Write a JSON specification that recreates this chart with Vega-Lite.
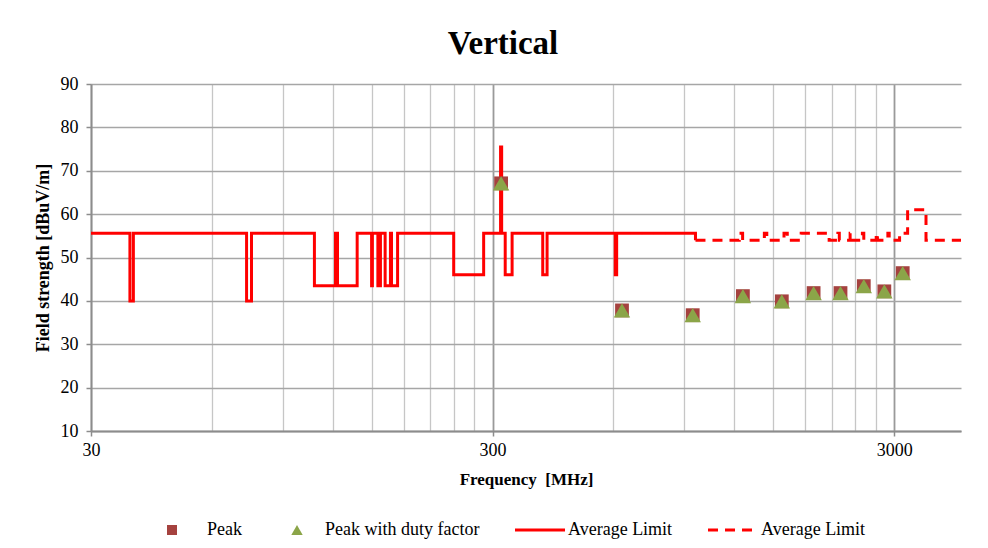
{
  "$schema": "https://vega.github.io/schema/vega-lite/v6.json",
  "width": 870,
  "height": 347,
  "autosize": {"type": "none"},
  "padding": {"left": 91, "top": 84, "right": 27, "bottom": 117},
  "background": "white",
  "title": {"text": "Vertical", "font": "Liberation Serif", "fontSize": 33, "fontWeight": "bold", "anchor": "middle", "dx": -23, "offset": 14, "color": "black"},
  "config": {"view": {"stroke": null}, "font": "Liberation Serif"},
  "data": {"values": [
    {"s": "Average Limit", "f": 30, "v": 55.6},
    {"s": "Average Limit", "f": 37.5, "v": 40},
    {"s": "Average Limit", "f": 38.25, "v": 55.6},
    {"s": "Average Limit", "f": 73.2, "v": 40},
    {"s": "Average Limit", "f": 75.3, "v": 55.6},
    {"s": "Average Limit", "f": 108, "v": 43.5},
    {"s": "Average Limit", "f": 121.9, "v": 55.6},
    {"s": "Average Limit", "f": 123.3, "v": 43.5},
    {"s": "Average Limit", "f": 138, "v": 55.6},
    {"s": "Average Limit", "f": 149.9, "v": 43.5},
    {"s": "Average Limit", "f": 150.6, "v": 55.6},
    {"s": "Average Limit", "f": 155.4, "v": 43.5},
    {"s": "Average Limit", "f": 157.7, "v": 55.6},
    {"s": "Average Limit", "f": 162, "v": 43.5},
    {"s": "Average Limit", "f": 167, "v": 55.6},
    {"s": "Average Limit", "f": 168, "v": 43.5},
    {"s": "Average Limit", "f": 174, "v": 55.6},
    {"s": "Average Limit", "f": 240, "v": 46},
    {"s": "Average Limit", "f": 285, "v": 55.6},
    {"s": "Average Limit", "f": 314, "v": 75.5},
    {"s": "Average Limit", "f": 316, "v": 55.6},
    {"s": "Average Limit", "f": 322.5, "v": 46},
    {"s": "Average Limit", "f": 335.5, "v": 55.6},
    {"s": "Average Limit", "f": 399.9, "v": 46},
    {"s": "Average Limit", "f": 410, "v": 55.6},
    {"s": "Average Limit", "f": 606, "v": 46},
    {"s": "Average Limit", "f": 611, "v": 55.6},
    {"s": "Average Limit", "f": 960, "v": 54},
    {"s": "Average Limit ", "f": 960, "v": 54},
    {"s": "Average Limit ", "f": 1234, "v": 55.6},
    {"s": "Average Limit ", "f": 1258, "v": 54},
    {"s": "Average Limit ", "f": 1425, "v": 55.6},
    {"s": "Average Limit ", "f": 1445, "v": 54},
    {"s": "Average Limit ", "f": 1595, "v": 55.6},
    {"s": "Average Limit ", "f": 1625, "v": 54},
    {"s": "Average Limit ", "f": 1760, "v": 55.6},
    {"s": "Average Limit ", "f": 2066, "v": 54},
    {"s": "Average Limit ", "f": 2172, "v": 55.6},
    {"s": "Average Limit ", "f": 2190, "v": 54},
    {"s": "Average Limit ", "f": 2330, "v": 55.6},
    {"s": "Average Limit ", "f": 2350, "v": 54},
    {"s": "Average Limit ", "f": 2500, "v": 55.6},
    {"s": "Average Limit ", "f": 2520, "v": 54},
    {"s": "Average Limit ", "f": 2706, "v": 55.6},
    {"s": "Average Limit ", "f": 2725, "v": 54},
    {"s": "Average Limit ", "f": 2893, "v": 55.6},
    {"s": "Average Limit ", "f": 2915, "v": 54},
    {"s": "Average Limit ", "f": 3094, "v": 55.6},
    {"s": "Average Limit ", "f": 3240, "v": 61},
    {"s": "Average Limit ", "f": 3600, "v": 54},
    {"s": "Average Limit ", "f": 4400, "v": 54},
    {"s": "Peak", "f": 315, "v": 67.1},
    {"s": "Peak", "f": 630, "v": 37.8},
    {"s": "Peak", "f": 945, "v": 36.7},
    {"s": "Peak", "f": 1260, "v": 41.1},
    {"s": "Peak", "f": 1575, "v": 39.9},
    {"s": "Peak", "f": 1890, "v": 41.8},
    {"s": "Peak", "f": 2205, "v": 41.8},
    {"s": "Peak", "f": 2520, "v": 43.4},
    {"s": "Peak", "f": 2835, "v": 42.2},
    {"s": "Peak", "f": 3150, "v": 46.4},
    {"s": "Peak with duty factor", "f": 315, "v": 67.1},
    {"s": "Peak with duty factor", "f": 630, "v": 37.8},
    {"s": "Peak with duty factor", "f": 945, "v": 36.7},
    {"s": "Peak with duty factor", "f": 1260, "v": 41.1},
    {"s": "Peak with duty factor", "f": 1575, "v": 39.9},
    {"s": "Peak with duty factor", "f": 1890, "v": 41.8},
    {"s": "Peak with duty factor", "f": 2205, "v": 41.8},
    {"s": "Peak with duty factor", "f": 2520, "v": 43.4},
    {"s": "Peak with duty factor", "f": 2835, "v": 42.2},
    {"s": "Peak with duty factor", "f": 3150, "v": 46.4}
  ]},
  "encoding": {
    "x": {
      "field": "f", "type": "quantitative",
      "scale": {"type": "log", "domain": [30, 4400]},
      "axis": {
        "title": "Frequency \u00a0[MHz]",
        "titleFont": "Liberation Serif", "titleFontSize": 17, "titleFontWeight": "bold", "titleColor": "black", "titlePadding": 12,
        "values": [30, 60, 90, 120, 150, 180, 210, 240, 270, 300, 600, 900, 1200, 1500, 1800, 2100, 2400, 2700, 3000],
        "labelExpr": "(datum.value == 30 || datum.value == 300 || datum.value == 3000) ? (datum.value + '') : ''",
        "labelFont": "Liberation Serif", "labelFontSize": 18, "labelColor": "black", "labelPadding": 5, "labelFlush": false,
        "grid": true,
        "gridColor": {"condition": {"test": "datum.value == 30 || datum.value == 300 || datum.value == 3000", "value": "#9a9a9a"}, "value": "#c6c6c6"},
        "gridWidth": {"condition": {"test": "datum.value == 300 || datum.value == 3000", "value": 1.8}, "value": 1.3},
        "domainColor": "#8c8c8c", "domainWidth": 2,
        "tickColor": "#8c8c8c", "tickSize": 5, "tickWidth": 1.5,
        "tickOpacity": {"condition": {"test": "datum.value == 30 || datum.value == 300 || datum.value == 3000", "value": 1}, "value": 0}
      }
    },
    "y": {
      "field": "v", "type": "quantitative",
      "scale": {"domain": [10, 90], "nice": false, "zero": false},
      "axis": {
        "title": "Field strength [dBuV/m]",
        "titleFont": "Liberation Serif", "titleFontSize": 18, "titleFontWeight": "bold", "titleColor": "black", "titlePadding": 8,
        "values": [10, 20, 30, 40, 50, 60, 70, 80, 90],
        "labelFont": "Liberation Serif", "labelFontSize": 18, "labelColor": "black", "labelPadding": 8,
        "grid": true, "gridColor": "#a6a6a6", "gridWidth": 1.5,
        "domainColor": "#8c8c8c", "domainWidth": 2,
        "tickColor": "#8c8c8c", "tickSize": 5, "tickWidth": 1.5
      }
    }
  },
  "layer": [
    {
      "transform": [{"filter": {"field": "s", "oneOf": ["Average Limit", "Average Limit "]}}],
      "mark": {"type": "line", "interpolate": "step-after", "strokeWidth": 3, "clip": true},
      "encoding": {
        "color": {
          "field": "s", "type": "nominal",
          "scale": {"domain": ["Peak", "Peak with duty factor", "Average Limit", "Average Limit "], "range": ["#A5423F", "#8BA548", "#FF0000", "#FF0000"]},
          "legend": {
            "title": null, "orient": "none", "legendX": 55, "legendY": 437,
            "direction": "horizontal", "columns": 4, "columnPadding": 29,
            "labelFont": "Liberation Serif", "labelFontSize": 18, "labelColor": "black", "labelOffset": 4,
            "symbolSize": 2500,
            "encode": {
              "symbols": {"update": {
                "fill": {"scale": "color", "field": "value"},
                "stroke": {"scale": "color", "field": "value"},
                "strokeWidth": {"signal": "indexof(['Peak','Peak with duty factor'], datum.value) >= 0 ? 0 : 3"},
                "size": {"signal": "datum.value == 'Peak' ? 100 : datum.value == 'Peak with duty factor' ? 130 : 2500"},
                "x": {"signal": "indexof(['Peak','Peak with duty factor'], datum.value) >= 0 ? 26 : 25"}
              }},
              "labels": {"update": {
                "x": {"signal": "datum.value == 'Peak' ? 61 : datum.value == 'Peak with duty factor' ? 54 : 53"}
              }}
            }
          }
        },
        "strokeDash": {
          "field": "s", "type": "nominal",
          "scale": {"domain": ["Peak", "Peak with duty factor", "Average Limit", "Average Limit "], "range": [[1, 0], [1, 0], [1, 0], [10, 7]]}
        }
      }
    },
    {
      "transform": [{"filter": {"field": "s", "equal": "Peak"}}],
      "mark": {"type": "point", "filled": true, "size": 190, "opacity": 1},
      "encoding": {
        "color": {"field": "s", "type": "nominal"},
        "shape": {
          "field": "s", "type": "nominal",
          "scale": {"domain": ["Peak", "Peak with duty factor", "Average Limit", "Average Limit "], "range": ["square", "triangle-up", "stroke", "stroke"]}
        }
      }
    },
    {
      "transform": [{"filter": {"field": "s", "equal": "Peak with duty factor"}}],
      "mark": {"type": "point", "filled": true, "size": 270, "opacity": 1},
      "encoding": {
        "color": {"field": "s", "type": "nominal"},
        "shape": {"field": "s", "type": "nominal"}
      }
    }
  ]
}
